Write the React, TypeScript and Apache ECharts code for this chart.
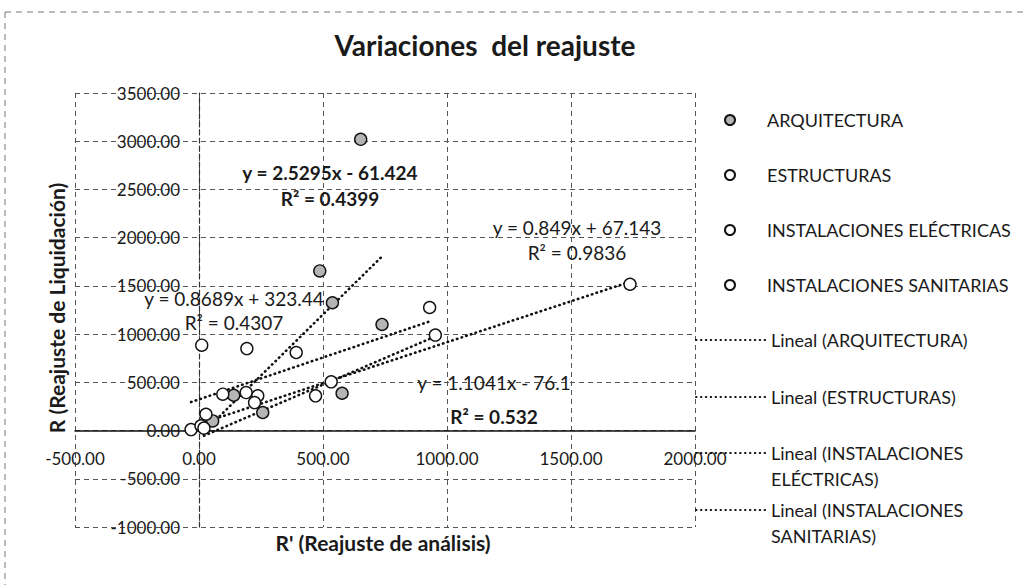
import { useEffect, useRef } from 'react';
import * as echarts from 'echarts';

const FONT = 'Lato, "Open Sans", sans-serif';
const INK = '#1a1a1a';

// ---- data ----
const seriesNames = ['ARQUITECTURA', 'ESTRUCTURAS', 'INSTALACIONES ELÉCTRICAS', 'INSTALACIONES SANITARIAS'];
const arqPoints = [[652, 3020], [487, 1655], [538, 1325], [738, 1100], [577, 387], [257, 187], [140, 366], [55, 100]];
const estPoints = [[11, 885], [193, 850], [392, 809], [930, 1276], [96, 377], [190, 394], [-32, 10]];
const elePoints = [[1738, 1517], [533, 505], [470, 360], [28, 169], [8, 50]];
const sanPoints = [[953, 990], [237, 360], [224, 290], [20, 25]];
const trendSlopes = [2.5295, 0.8689, 0.849, 1.1041];
const trendIntercepts = [-61.424, 323.44, 67.143, -76.1];
const trendR2 = ['0.4399', '0.4307', '0.9836', '0.532'];
const xTicks = { min: -500, max: 2000, step: 500 };
const yTicks = { min: -1000, max: 3500, step: 500 };

// ---- layout (not data) ----
const GRID = { left: 75, top: 93, width: 620, height: 434 };
const eqLayout = [
  { x: 330, y: 172, r2y: 198, boldEq: true, boldR2: true },
  { x: 234, y: 298, r2y: 322, boldEq: false, boldR2: false },
  { x: 577, y: 227, r2y: 252, boldEq: false, boldR2: false },
  { x: 494, y: 382, r2y: 416, boldEq: false, boldR2: true },
];

const allPoints = [arqPoints, estPoints, elePoints, sanPoints];

function fmtEq(a: number, b: number) {
  return `y = ${a}x ${b < 0 ? '-' : '+'} ${Math.abs(b)}`;
}

export default function App() {
  const ref = useRef<HTMLDivElement>(null);
  useEffect(() => {
    let chart: echarts.ECharts | null = null;
    let disposed = false;

    const build = () => {
      if (disposed || !ref.current) return;
      chart = echarts.init(ref.current, null, { renderer: 'svg' });

      const scatterSeries = allPoints.map((pts, i) => ({
        name: seriesNames[i],
        type: 'scatter',
        data: pts,
        symbol: 'circle',
        symbolSize: 12,
        z: 5,
        itemStyle: {
          color: i === 0 ? '#b5b5b5' : '#ffffff',
          borderColor: '#111',
          borderWidth: 1.4,
          opacity: 1,
        },
      }));

      const trendSeries = allPoints.map((pts, i) => {
        const xs = pts.map((p) => p[0]);
        const x0 = Math.min(...xs);
        const x1 = Math.max(...xs);
        const a = trendSlopes[i];
        const b = trendIntercepts[i];
        return {
          name: `Lineal (${seriesNames[i]})`,
          type: 'line',
          data: [[x0, a * x0 + b], [x1, a * x1 + b]],
          symbol: 'none',
          z: 4,
          lineStyle: { color: '#111', width: 2.6, type: [0.5, 4.4], cap: 'round' },
          itemStyle: { color: '#111' },
        };
      });

      const eqGraphics: any[] = [];
      eqLayout.forEach((l, i) => {
        eqGraphics.push({
          type: 'text', x: l.x, y: l.y, z: 100,
          style: {
            text: fmtEq(trendSlopes[i], trendIntercepts[i]),
            fontFamily: FONT, fontSize: 19, fontWeight: l.boldEq ? 'bold' : 'normal',
            fill: INK, align: 'center', verticalAlign: 'middle',
          },
        });
        eqGraphics.push({
          type: 'text', x: l.x, y: l.r2y, z: 100,
          style: {
            text: `R² = ${trendR2[i]}`,
            fontFamily: FONT, fontSize: 19, fontWeight: l.boldR2 ? 'bold' : 'normal',
            fill: INK, align: 'center', verticalAlign: 'middle',
          },
        });
      });

      const baseLegendText = { fontFamily: FONT, fontSize: 18, color: INK, lineHeight: 22 };
      const lineLegend = (name: string, top: number, multi: boolean) => ({
        data: [name],
        orient: 'vertical',
        left: 695,
        top,
        padding: 0,
        itemWidth: 70,
        itemHeight: 10,
        selectedMode: false,
        itemStyle: { opacity: 0 },
        formatter: (n: string) => (multi ? '\n' + n.replace('INSTALACIONES ', 'INSTALACIONES\n') : n),
        textStyle: multi ? { ...baseLegendText, lineHeight: 26 } : baseLegendText,
      });

      const zeroY = GRID.top + GRID.height * (yTicks.max / (yTicks.max - yTicks.min));
      const zeroX = GRID.left + GRID.width * (-xTicks.min / (xTicks.max - xTicks.min));

      const option: any = {
        animation: false,
        backgroundColor: '#ffffff',
        textStyle: { fontFamily: FONT },
        grid: { ...GRID, containLabel: false, outerBoundsMode: 'none' },
        xAxis: {
          type: 'value',
          position: 'bottom',
          offset: -(GRID.top + GRID.height - zeroY),
          min: xTicks.min,
          max: xTicks.max,
          interval: xTicks.step,
          axisLine: { onZero: false, lineStyle: { color: '#111', width: 1.5 } },
          axisTick: { show: false },
          axisLabel: {
            formatter: (v: number) => v.toFixed(2),
            fontFamily: FONT, fontSize: 17, color: INK, margin: 19,
          },
          splitLine: { show: true, lineStyle: { color: '#555', width: 1, type: [5, 4] } },
        },
        yAxis: {
          type: 'value',
          position: 'left',
          offset: -(zeroX - GRID.left),
          min: yTicks.min,
          max: yTicks.max,
          interval: yTicks.step,
          axisLine: { onZero: false, lineStyle: { color: '#333', width: 1.2, type: [5, 3] } },
          axisTick: { show: false },
          axisLabel: {
            formatter: (v: number) => v.toFixed(2),
            fontFamily: FONT, fontSize: 17, color: INK, margin: 19,
          },
          splitLine: { show: true, lineStyle: { color: '#555', width: 1, type: [5, 4] } },
        },
        legend: [
          {
            data: seriesNames,
            orient: 'vertical',
            left: 724,
            top: 109,
            padding: 0,
            itemWidth: 64,
            itemHeight: 10,
            itemGap: 33,
            selectedMode: false,
            textStyle: baseLegendText,
          },
          lineLegend(`Lineal (${seriesNames[0]})`, 329, false),
          lineLegend(`Lineal (${seriesNames[1]})`, 386, false),
          lineLegend(`Lineal (${seriesNames[2]})`, 414, true),
          lineLegend(`Lineal (${seriesNames[3]})`, 471, true),
        ],
        graphic: [
          {
            type: 'line', z: -1,
            shape: { x1: 5, y1: 12, x2: 5, y2: 585 },
            style: { stroke: '#777', lineWidth: 1, lineDash: [6, 5] },
          },
          {
            type: 'line', z: -1,
            shape: { x1: 5, y1: 12, x2: 1025, y2: 12 },
            style: { stroke: '#777', lineWidth: 1, lineDash: [6, 5] },
          },
          {
            type: 'text', x: 485, y: 45,
            style: {
              text: 'Variaciones  del reajuste', fontFamily: FONT, fontSize: 28, fontWeight: 'bold',
              fill: INK, align: 'center', verticalAlign: 'middle',
            },
          },
          {
            type: 'text', x: 383, y: 542,
            style: {
              text: "R' (Reajuste de análisis)", fontFamily: FONT, fontSize: 21, fontWeight: 'bold',
              fill: INK, align: 'center', verticalAlign: 'middle',
            },
          },
          {
            type: 'text', x: 56, y: 308, rotation: Math.PI / 2,
            style: {
              text: 'R (Reajuste de Liquidación)', fontFamily: FONT, fontSize: 21, fontWeight: 'bold',
              fill: INK, align: 'center', verticalAlign: 'middle',
            },
          },
          ...eqGraphics,
        ],
        series: [...trendSeries, ...scatterSeries],
      };

      chart.setOption(option);
    };

    const fontsReady = (document as any).fonts
      ? Promise.all([
          (document as any).fonts.load('17px Lato'),
          (document as any).fonts.load('bold 17px Lato'),
        ]).catch(() => null)
      : Promise.resolve(null);
    fontsReady.then(build);

    return () => {
      disposed = true;
      if (chart) chart.dispose();
    };
  }, []);

  return (
    <div
      ref={ref}
      style={{ position: 'fixed', left: 0, top: 0, width: 1025, height: 585, background: '#fff' }}
    />
  );
}
